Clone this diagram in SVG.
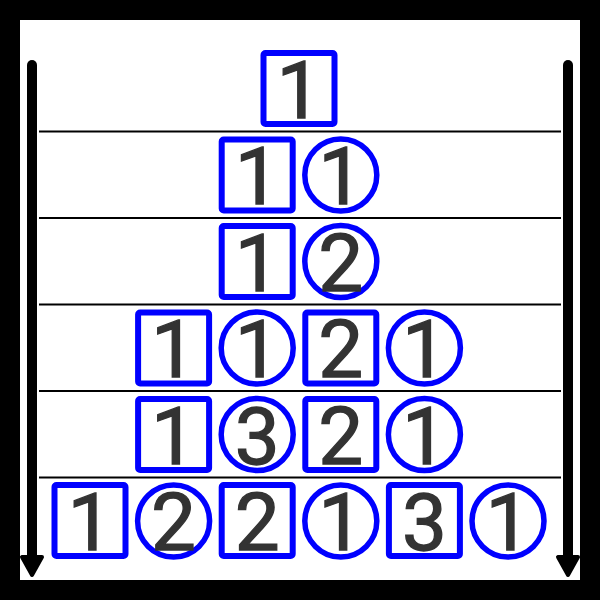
<svg xmlns="http://www.w3.org/2000/svg" width="600" height="600" viewBox="0 0 600 600">
<style>
.sq{fill:none;stroke:#0000ff;stroke-width:6;stroke-linejoin:round}
.ci{fill:none;stroke:#0000ff;stroke-width:5.5}
.d{font-family:Roboto,"Liberation Sans",sans-serif;font-size:80px;fill:#333333;stroke:#333333;stroke-width:1.3;text-anchor:middle}
.sep{stroke:#000;stroke-width:2.2}
.arr{stroke:#000;stroke-width:10;stroke-linecap:round;fill:none}
.head{fill:#000;stroke:#000;stroke-width:4;stroke-linejoin:round}
</style>
<rect x="0" y="0" width="600" height="600" fill="#000"/>
<rect x="20" y="20" width="560" height="560" fill="#fff"/>
<g id="connectors">
<line class="sep" x1="39" y1="131.5" x2="561" y2="131.5"/>
<line class="sep" x1="39" y1="218" x2="561" y2="218"/>
<line class="sep" x1="39" y1="304.5" x2="561" y2="304.5"/>
<line class="sep" x1="39" y1="391" x2="561" y2="391"/>
<line class="sep" x1="39" y1="477.5" x2="561" y2="477.5"/>
<line class="arr" x1="32" y1="65" x2="32" y2="560"/>
<polygon class="head" points="22,557 42,557 32,575"/>
<line class="arr" x1="568" y1="65" x2="568" y2="560"/>
<polygon class="head" points="558,557 578,557 568,575"/>
</g>
<g id="r0c0"><rect class="sq" x="263.5" y="53" width="71" height="71" rx="2"/><text class="d" x="299" y="117.5">1</text></g>
<g id="r1c0"><rect class="sq" x="221.7" y="139.5" width="71" height="71" rx="2"/><text class="d" x="257.2" y="204">1</text></g>
<g id="r1c1"><circle class="ci" cx="340.8" cy="175" r="36"/><text class="d" x="340.8" y="204">1</text></g>
<g id="r2c0"><rect class="sq" x="221.7" y="226" width="71" height="71" rx="2"/><text class="d" x="257.2" y="290.5">1</text></g>
<g id="r2c1"><circle class="ci" cx="340.8" cy="261.5" r="36"/><text class="d" x="340.8" y="290.5">2</text></g>
<g id="r3c0"><rect class="sq" x="138.1" y="312.5" width="71" height="71" rx="2"/><text class="d" x="173.6" y="377">1</text></g>
<g id="r3c1"><circle class="ci" cx="257.2" cy="348" r="36"/><text class="d" x="257.2" y="377">1</text></g>
<g id="r3c2"><rect class="sq" x="305.3" y="312.5" width="71" height="71" rx="2"/><text class="d" x="340.8" y="377">2</text></g>
<g id="r3c3"><circle class="ci" cx="424.4" cy="348" r="36"/><text class="d" x="424.4" y="377">1</text></g>
<g id="r4c0"><rect class="sq" x="138.1" y="399" width="71" height="71" rx="2"/><text class="d" x="173.6" y="463.5">1</text></g>
<g id="r4c1"><circle class="ci" cx="257.2" cy="434.5" r="36"/><text class="d" x="257.2" y="463.5">3</text></g>
<g id="r4c2"><rect class="sq" x="305.3" y="399" width="71" height="71" rx="2"/><text class="d" x="340.8" y="463.5">2</text></g>
<g id="r4c3"><circle class="ci" cx="424.4" cy="434.5" r="36"/><text class="d" x="424.4" y="463.5">1</text></g>
<g id="r5c0"><rect class="sq" x="54.5" y="485" width="71" height="71" rx="2"/><text class="d" x="90" y="550">1</text></g>
<g id="r5c1"><circle class="ci" cx="173.6" cy="521" r="36"/><text class="d" x="173.6" y="550">2</text></g>
<g id="r5c2"><rect class="sq" x="221.7" y="485" width="71" height="71" rx="2"/><text class="d" x="257.2" y="550">2</text></g>
<g id="r5c3"><circle class="ci" cx="340.8" cy="521" r="36"/><text class="d" x="340.8" y="550">1</text></g>
<g id="r5c4"><rect class="sq" x="388.9" y="485" width="71" height="71" rx="2"/><text class="d" x="424.4" y="550">3</text></g>
<g id="r5c5"><circle class="ci" cx="508" cy="521" r="36"/><text class="d" x="508" y="550">1</text></g>
</svg>
